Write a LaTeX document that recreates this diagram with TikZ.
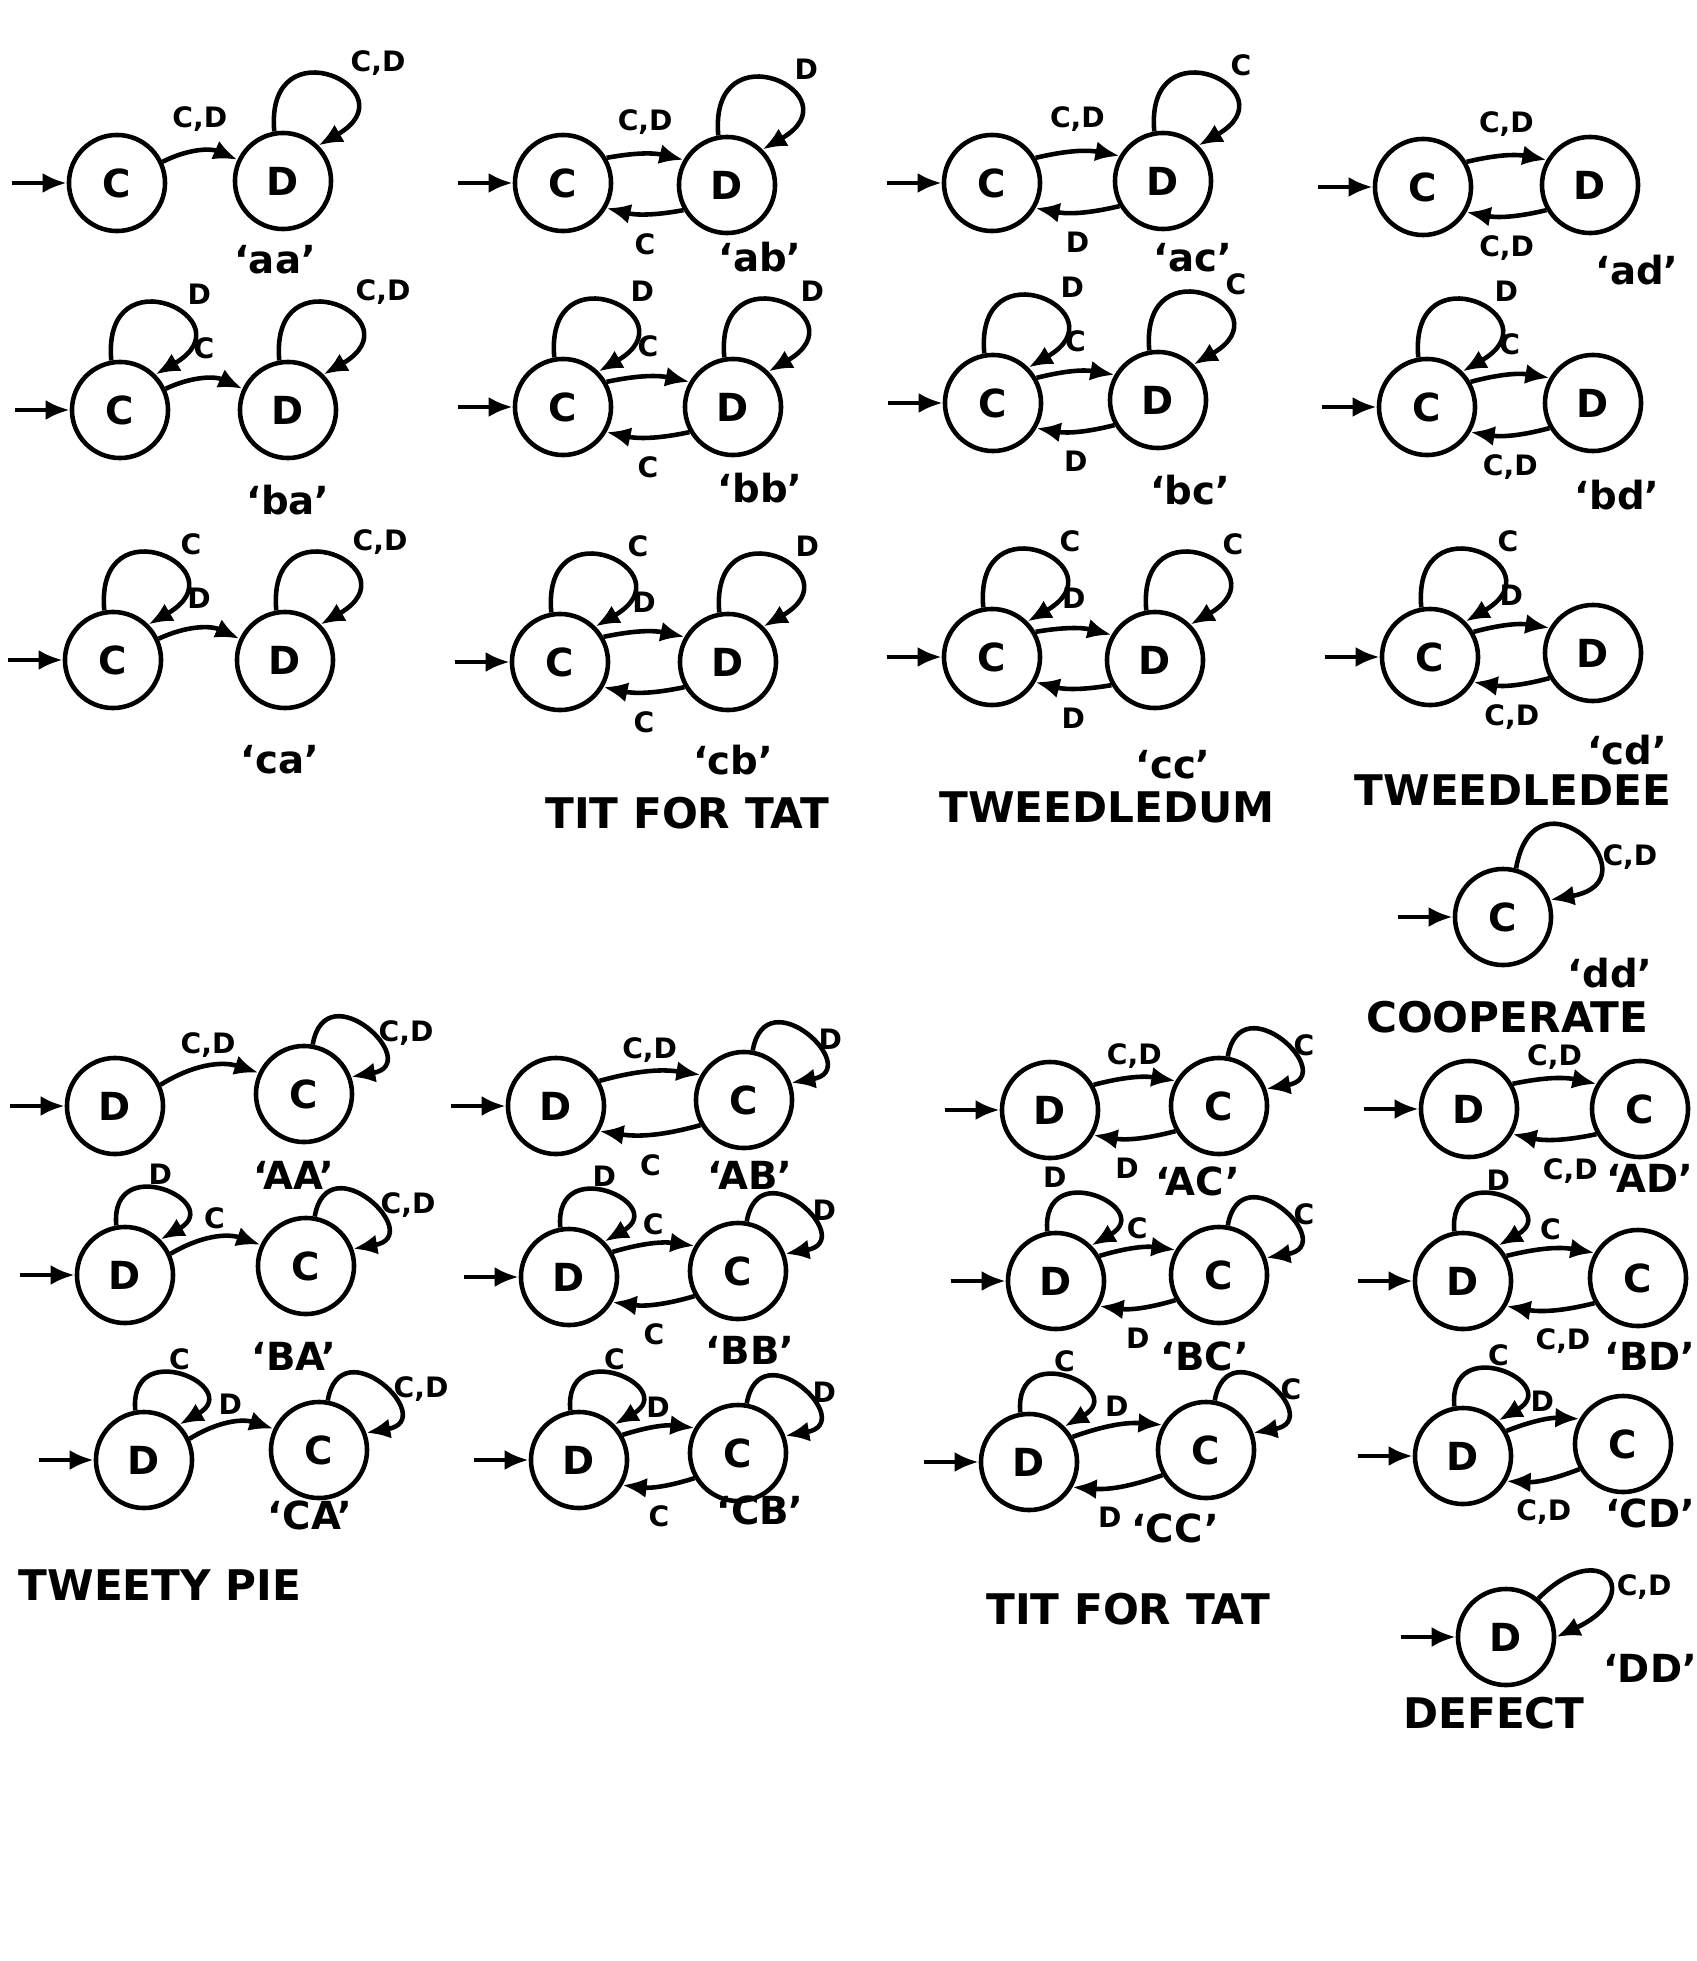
\documentclass[tikz,border=0pt]{standalone}
\usepackage{fontspec}
\setmainfont{DejaVu Sans}
\usetikzlibrary{arrows.meta}

\begin{document}
\begin{tikzpicture}[x=0.01cm, y=0.01cm,
  stato/.style={draw, circle, line width=1.3pt, minimum size=0.96cm, inner sep=0pt, font=\fontsize{11}{13}\selectfont\bfseries},
  freccia/.style={-{Latex[length=2.4mm,width=2mm]}, line width=1.3pt},
  etich/.style={font=\footnotesize\bfseries, inner sep=2pt},
  etsu/.style={etich, above=3pt},
  etsb/.style={etich, above=0pt},
  etgiu/.style={etich, below=3pt},
  etlo/.style={etich, pos=0.6, anchor=south west},
  etlp/.style={etich, pos=0.5, anchor=south, inner sep=1pt},
  etld/.style={etich, pos=0.55, anchor=west},
  sigla/.style={font=\fontsize{11}{13}\selectfont\bfseries},
  nome/.style={font=\fontsize{12}{14}\selectfont\bfseries},
  cappio/.style={to path={.. controls +(95:110) and +(30:110) .. (\tikztotarget) \tikztonodes}},
  cappiodx/.style={to path={.. controls +(80:110) and +(10:110) .. (\tikztotarget) \tikztonodes}},
  cappietto/.style={to path={.. controls +(95:75) and +(30:75) .. (\tikztotarget) \tikztonodes}},
  cappiettodx/.style={to path={.. controls +(80:75) and +(10:75) .. (\tikztotarget) \tikztonodes}}]

\useasboundingbox (0,0) rectangle (1696,-1961);

% ===== Partenza da C =====

% 'aa'
\node[stato] (aaC) at (117,-183) {C};
\node[stato] (aaD) at (283,-181) {D};
\coordinate (aaS) at ([xshift=-0.55cm]aaC.west);
\draw[freccia] (aaS) -- (aaC);
\draw[freccia] (aaC.25) to[bend left=25] node[etsu] (aaT) {C,D} (aaD.155);
\draw[freccia] (aaD.100) to[cappio] node[etlo] (aaLD) {C,D} (aaD.45);
\node[sigla] (aaN) at (275,-260) {`aa'};

% 'ab'
\node[stato] (abC) at (563,-183) {C};
\node[stato] (abD) at (727,-185) {D};
\coordinate (abS) at ([xshift=-0.55cm]abC.west);
\draw[freccia] (abS) -- (abC);
\draw[freccia] (abC.30) to[bend left=12] node[etsu] (abT) {C,D} (abD.150);
\draw[freccia] (abD.-150) to[bend left=12] node[etgiu] (abB) {C} (abC.-30);
\draw[freccia] (abD.100) to[cappio] node[etlo] (abLD) {D} (abD.45);
\node[sigla] (abN) at (760,-257) {`ab'};

% 'ac'
\node[stato] (acC) at (992,-183) {C};
\node[stato] (acD) at (1163,-181) {D};
\coordinate (acS) at ([xshift=-0.55cm]acC.west);
\draw[freccia] (acS) -- (acC);
\draw[freccia] (acC.30) to[bend left=12] node[etsu] (acT) {C,D} (acD.150);
\draw[freccia] (acD.-150) to[bend left=12] node[etgiu] (acB) {D} (acC.-30);
\draw[freccia] (acD.100) to[cappio] node[etlo] (acLD) {C} (acD.45);
\node[sigla] (acN) at (1193,-258) {`ac'};

% 'ad'
\node[stato] (adC) at (1423,-187) {C};
\node[stato] (adD) at (1590,-185) {D};
\coordinate (adS) at ([xshift=-0.55cm]adC.west);
\draw[freccia] (adS) -- (adC);
\draw[freccia] (adC.30) to[bend left=12] node[etsu] (adT) {C,D} (adD.150);
\draw[freccia] (adD.-150) to[bend left=12] node[etgiu] (adB) {C,D} (adC.-30);
\node[sigla] (adN) at (1637,-270) {`ad'};

% 'ba'
\node[stato] (baC) at (120,-410) {C};
\node[stato] (baD) at (288,-410) {D};
\coordinate (baS) at ([xshift=-0.55cm]baC.west);
\draw[freccia] (baS) -- (baC);
\draw[freccia] (baC.25) to[bend left=25] node[etsu] (baT) {C} (baD.155);
\draw[freccia] (baC.100) to[cappio] node[etlo] (baLC) {D} (baC.45);
\draw[freccia] (baD.100) to[cappio] node[etlo] (baLD) {C,D} (baD.45);
\node[sigla] (baN) at (288,-500) {`ba'};

% 'bb'
\node[stato] (bbC) at (563,-407) {C};
\node[stato] (bbD) at (733,-407) {D};
\coordinate (bbS) at ([xshift=-0.55cm]bbC.west);
\draw[freccia] (bbS) -- (bbC);
\draw[freccia] (bbC.30) to[bend left=12] node[etsu] (bbT) {C} (bbD.150);
\draw[freccia] (bbD.-150) to[bend left=12] node[etgiu] (bbB) {C} (bbC.-30);
\draw[freccia] (bbC.100) to[cappio] node[etlo] (bbLC) {D} (bbC.45);
\draw[freccia] (bbD.100) to[cappio] node[etlo] (bbLD) {D} (bbD.45);
\node[sigla] (bbN) at (760,-488) {`bb'};

% 'bc'
\node[stato] (bcC) at (993,-403) {C};
\node[stato] (bcD) at (1158,-400) {D};
\coordinate (bcS) at ([xshift=-0.55cm]bcC.west);
\draw[freccia] (bcS) -- (bcC);
\draw[freccia] (bcC.30) to[bend left=12] node[etsu] (bcT) {C} (bcD.150);
\draw[freccia] (bcD.-150) to[bend left=12] node[etgiu] (bcB) {D} (bcC.-30);
\draw[freccia] (bcC.100) to[cappio] node[etlo] (bcLC) {D} (bcC.45);
\draw[freccia] (bcD.100) to[cappio] node[etlo] (bcLD) {C} (bcD.45);
\node[sigla] (bcN) at (1190,-490) {`bc'};

% 'bd'
\node[stato] (bdC) at (1427,-407) {C};
\node[stato] (bdD) at (1593,-403) {D};
\coordinate (bdS) at ([xshift=-0.55cm]bdC.west);
\draw[freccia] (bdS) -- (bdC);
\draw[freccia] (bdC.30) to[bend left=12] node[etsu] (bdT) {C} (bdD.150);
\draw[freccia] (bdD.-150) to[bend left=12] node[etgiu] (bdB) {C,D} (bdC.-30);
\draw[freccia] (bdC.100) to[cappio] node[etlo] (bdLC) {D} (bdC.45);
\node[sigla] (bdN) at (1617,-495) {`bd'};

% 'ca'
\node[stato] (caC) at (113,-660) {C};
\node[stato] (caD) at (285,-660) {D};
\coordinate (caS) at ([xshift=-0.55cm]caC.west);
\draw[freccia] (caS) -- (caC);
\draw[freccia] (caC.25) to[bend left=25] node[etsu] (caT) {D} (caD.155);
\draw[freccia] (caC.100) to[cappio] node[etlo] (caLC) {C} (caC.45);
\draw[freccia] (caD.100) to[cappio] node[etlo] (caLD) {C,D} (caD.45);
\node[sigla] (caN) at (280,-760) {`ca'};

% 'cb'
\node[stato] (cbC) at (560,-662) {C};
\node[stato] (cbD) at (728,-662) {D};
\coordinate (cbS) at ([xshift=-0.55cm]cbC.west);
\draw[freccia] (cbS) -- (cbC);
\draw[freccia] (cbC.30) to[bend left=12] node[etsu] (cbT) {D} (cbD.150);
\draw[freccia] (cbD.-150) to[bend left=12] node[etgiu] (cbB) {C} (cbC.-30);
\draw[freccia] (cbC.100) to[cappio] node[etlo] (cbLC) {C} (cbC.45);
\draw[freccia] (cbD.100) to[cappio] node[etlo] (cbLD) {D} (cbD.45);
\node[sigla] (cbN) at (733,-760) {`cb'};
\node[nome] (cbM) at (687,-813) {TIT FOR TAT};

% 'cc'
\node[stato] (ccC) at (992,-657) {C};
\node[stato] (ccD) at (1155,-660) {D};
\coordinate (ccS) at ([xshift=-0.55cm]ccC.west);
\draw[freccia] (ccS) -- (ccC);
\draw[freccia] (ccC.30) to[bend left=12] node[etsu] (ccT) {D} (ccD.150);
\draw[freccia] (ccD.-150) to[bend left=12] node[etgiu] (ccB) {D} (ccC.-30);
\draw[freccia] (ccC.100) to[cappio] node[etlo] (ccLC) {C} (ccC.45);
\draw[freccia] (ccD.100) to[cappio] node[etlo] (ccLD) {C} (ccD.45);
\node[sigla] (ccN) at (1173,-765) {`cc'};
\node[nome] (ccM) at (1107,-807) {TWEEDLEDUM};

% 'cd'
\node[stato] (cdC) at (1430,-657) {C};
\node[stato] (cdD) at (1593,-653) {D};
\coordinate (cdS) at ([xshift=-0.55cm]cdC.west);
\draw[freccia] (cdS) -- (cdC);
\draw[freccia] (cdC.30) to[bend left=12] node[etsu] (cdT) {D} (cdD.150);
\draw[freccia] (cdD.-150) to[bend left=12] node[etgiu] (cdB) {C,D} (cdC.-30);
\draw[freccia] (cdC.100) to[cappio] node[etlo] (cdLC) {C} (cdC.45);
\node[sigla] (cdN) at (1627,-750) {`cd'};
\node[nome] (cdM) at (1513,-790) {TWEEDLEDEE};

% 'dd'
\node[stato] (ddC) at (1503,-917) {C};
\coordinate (ddS) at ([xshift=-0.55cm]ddC.west);
\draw[freccia] (ddS) -- (ddC);
\draw[freccia] (ddC.75) to[cappiodx] node[etich, pos=0.65, anchor=west] (ddLC) {C,D} (ddC.20);
\node[sigla] (ddN) at (1610,-973) {`dd'};
\node[nome] (ddM) at (1507,-1017) {COOPERATE};

% ===== Partenza da D =====

% 'AA'
\node[stato] (AAD) at (115,-1106) {D};
\node[stato] (AAC) at (304,-1094) {C};
\coordinate (AAS) at ([xshift=-0.55cm]AAD.west);
\draw[freccia] (AAS) -- (AAD);
\draw[freccia] (AAD.25) to[bend left=25] node[etsb] (AAT) {C,D} (AAC.155);
\draw[freccia] (AAC.80) to[cappiettodx] node[etld] (AALC) {C,D} (AAC.20);
\node[sigla] (AAN) at (294,-1175) {`AA'};

% 'AB'
\node[stato] (ABD) at (556,-1106) {D};
\node[stato] (ABC) at (744,-1100) {C};
\coordinate (ABS) at ([xshift=-0.55cm]ABD.west);
\draw[freccia] (ABS) -- (ABD);
\draw[freccia] (ABD.30) to[bend left=12] node[etsb] (ABT) {C,D} (ABC.150);
\draw[freccia] (ABC.-150) to[bend left=12] node[etgiu] (ABB) {C} (ABD.-30);
\draw[freccia] (ABC.80) to[cappiettodx] node[etld] (ABLC) {D} (ABC.20);
\node[sigla] (ABN) at (750,-1175) {`AB'};

% 'AC'
\node[stato] (ACD) at (1050,-1110) {D};
\node[stato] (ACC) at (1219,-1106) {C};
\coordinate (ACS) at ([xshift=-0.55cm]ACD.west);
\draw[freccia] (ACS) -- (ACD);
\draw[freccia] (ACD.30) to[bend left=12] node[etsb] (ACT) {C,D} (ACC.150);
\draw[freccia] (ACC.-150) to[bend left=12] node[etgiu, pos=0.6] (ACB) {D} (ACD.-30);
\draw[freccia] (ACC.80) to[cappiettodx] node[etld] (ACLC) {C} (ACC.20);
\node[sigla] (ACN) at (1198,-1181) {`AC'};

% 'AD'
\node[stato] (ADD) at (1469,-1109) {D};
\node[stato] (ADC) at (1640,-1109) {C};
\coordinate (ADS) at ([xshift=-0.55cm]ADD.west);
\draw[freccia] (ADS) -- (ADD);
\draw[freccia] (ADD.30) to[bend left=12] node[etsb] (ADT) {C,D} (ADC.150);
\draw[freccia] (ADC.-150) to[bend left=12] node[etgiu, pos=0.3] (ADB) {C,D} (ADD.-30);
\node[sigla] (ADN) at (1650,-1178) {`AD'};

% 'BA'
\node[stato] (BAD) at (125,-1275) {D};
\node[stato] (BAC) at (306,-1266) {C};
\coordinate (BAS) at ([xshift=-0.55cm]BAD.west);
\draw[freccia] (BAS) -- (BAD);
\draw[freccia] (BAD.25) to[bend left=25] node[etsb] (BAT) {C} (BAC.155);
\draw[freccia] (BAD.100) to[cappietto] node[etlp] (BALD) {D} (BAD.45);
\draw[freccia] (BAC.80) to[cappiettodx] node[etld] (BALC) {C,D} (BAC.20);
\node[sigla] (BAN) at (294,-1356) {`BA'};

% 'BB'
\node[stato] (BBD) at (569,-1277) {D};
\node[stato] (BBC) at (738,-1271) {C};
\coordinate (BBS) at ([xshift=-0.55cm]BBD.west);
\draw[freccia] (BBS) -- (BBD);
\draw[freccia] (BBD.30) to[bend left=12] node[etsb] (BBT) {C} (BBC.150);
\draw[freccia] (BBC.-150) to[bend left=12] node[etgiu] (BBB) {C} (BBD.-30);
\draw[freccia] (BBD.100) to[cappietto] node[etlp] (BBLD) {D} (BBD.45);
\draw[freccia] (BBC.80) to[cappiettodx] node[etld] (BBLC) {D} (BBC.20);
\node[sigla] (BBN) at (750,-1350) {`BB'};

% 'BC'
\node[stato] (BCD) at (1056,-1281) {D};
\node[stato] (BCC) at (1219,-1275) {C};
\coordinate (BCS) at ([xshift=-0.55cm]BCD.west);
\draw[freccia] (BCS) -- (BCD);
\draw[freccia] (BCD.30) to[bend left=12] node[etsb] (BCT) {C} (BCC.150);
\draw[freccia] (BCC.-150) to[bend left=12] node[etgiu] (BCB) {D} (BCD.-30);
\draw[freccia] (BCD.100) to[cappietto] node[etich, pos=0.35, anchor=south east, inner sep=1pt] (BCLD) {D} (BCD.45);
\draw[freccia] (BCC.80) to[cappiettodx] node[etld] (BCLC) {C} (BCC.20);
\node[sigla] (BCN) at (1205,-1356) {`BC'};

% 'BD'
\node[stato] (BDD) at (1463,-1281) {D};
\node[stato] (BDC) at (1638,-1278) {C};
\coordinate (BDS) at ([xshift=-0.55cm]BDD.west);
\draw[freccia] (BDS) -- (BDD);
\draw[freccia] (BDD.30) to[bend left=12] node[etsb] (BDT) {C} (BDC.150);
\draw[freccia] (BDC.-150) to[bend left=12] node[etgiu, pos=0.35] (BDB) {C,D} (BDD.-30);
\draw[freccia] (BDD.100) to[cappietto] node[etlp] (BDLD) {D} (BDD.45);
\node[sigla] (BDN) at (1650,-1356) {`BD'};

% 'CA'
\node[stato] (CAD) at (144,-1460) {D};
\node[stato] (CAC) at (319,-1450) {C};
\coordinate (CAS) at ([xshift=-0.55cm]CAD.west);
\draw[freccia] (CAS) -- (CAD);
\draw[freccia] (CAD.25) to[bend left=25] node[etsb] (CAT) {D} (CAC.155);
\draw[freccia] (CAD.100) to[cappietto] node[etlp] (CALD) {C} (CAD.45);
\draw[freccia] (CAC.80) to[cappiettodx] node[etld] (CALC) {C,D} (CAC.20);
\node[sigla] (CAN) at (310,-1515) {`CA'};
\node[nome] (CAM) at (160,-1585) {TWEETY PIE};

% 'CB'
\node[stato] (CBD) at (579,-1460) {D};
\node[stato] (CBC) at (738,-1453) {C};
\coordinate (CBS) at ([xshift=-0.55cm]CBD.west);
\draw[freccia] (CBS) -- (CBD);
\draw[freccia] (CBD.30) to[bend left=12] node[etsb] (CBT) {D} (CBC.150);
\draw[freccia] (CBC.-150) to[bend left=12] node[etgiu] (CBB) {C} (CBD.-30);
\draw[freccia] (CBD.100) to[cappietto] node[etlp] (CBLD) {C} (CBD.45);
\draw[freccia] (CBC.80) to[cappiettodx] node[etld] (CBLC) {D} (CBC.20);
\node[sigla] (CBN) at (760,-1510) {`CB'};

% 'CC'
\node[stato] (CCD) at (1029,-1462) {D};
\node[stato] (CCC) at (1206,-1450) {C};
\coordinate (CCS) at ([xshift=-0.55cm]CCD.west);
\draw[freccia] (CCS) -- (CCD);
\draw[freccia] (CCD.30) to[bend left=12] node[etsb] (CCT) {D} (CCC.150);
\draw[freccia] (CCC.-150) to[bend left=12] node[etgiu, pos=0.6] (CCB) {D} (CCD.-30);
\draw[freccia] (CCD.100) to[cappietto] node[etlp] (CCLD) {C} (CCD.45);
\draw[freccia] (CCC.80) to[cappiettodx] node[etld] (CCLC) {C} (CCC.20);
\node[sigla] (CCN) at (1175,-1528) {`CC'};
\node[nome] (CCM) at (1128,-1609) {TIT FOR TAT};

% 'CD'
\node[stato] (CDD) at (1463,-1456) {D};
\node[stato] (CDC) at (1623,-1444) {C};
\coordinate (CDS) at ([xshift=-0.55cm]CDD.west);
\draw[freccia] (CDS) -- (CDD);
\draw[freccia] (CDD.30) to[bend left=12] node[etsb] (CDT) {D} (CDC.150);
\draw[freccia] (CDC.-150) to[bend left=12] node[etgiu] (CDB) {C,D} (CDD.-30);
\draw[freccia] (CDD.100) to[cappietto] node[etlp] (CDLD) {C} (CDD.45);
\node[sigla] (CDN) at (1650,-1513) {`CD'};

% 'DD'
\node[stato] (DDD) at (1506,-1637) {D};
\coordinate (DDS) at ([xshift=-0.55cm]DDD.west);
\draw[freccia] (DDS) -- (DDD);
\draw[freccia] (DDD.50) .. controls +(45:90) and +(25:100) .. node[etich, pos=0.6, anchor=west] (DDLD) {C,D} (DDD.0);
\node[sigla] (DDN) at (1650,-1668) {`DD'};
\node[nome] (DDM) at (1494,-1713) {DEFECT};

\end{tikzpicture}
\end{document}
